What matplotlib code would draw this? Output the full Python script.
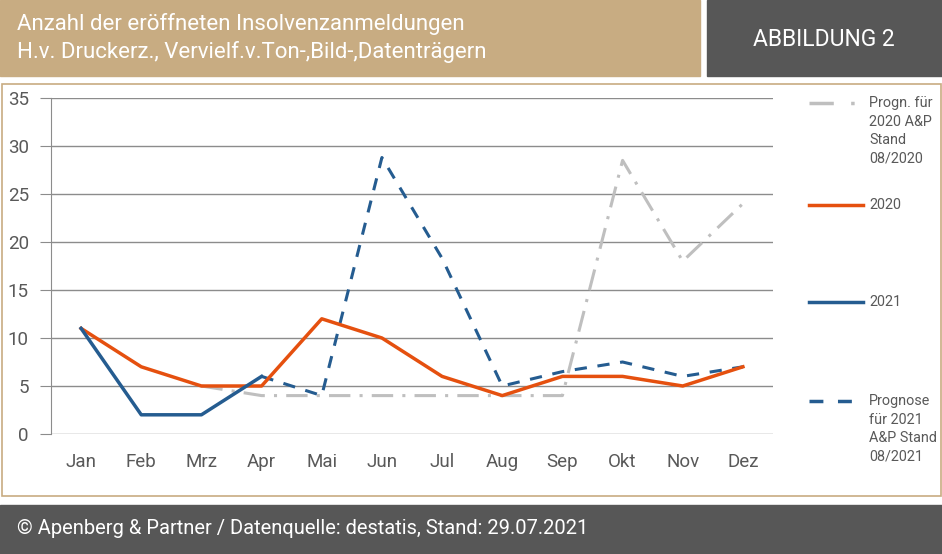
import matplotlib
matplotlib.use('Agg')
import matplotlib.pyplot as plt
from matplotlib.patches import Rectangle
from matplotlib.lines import Line2D
import numpy as np

plt.rcParams['font.family'] = ['Roboto', 'DejaVu Sans']

months = ['Jan', 'Feb', 'Mrz', 'Apr', 'Mai', 'Jun', 'Jul', 'Aug', 'Sep', 'Okt', 'Nov', 'Dez']
vals_2020 = [11, 7, 5, 5, 12, 10, 6, 4, 6, 6, 5, 7]
vals_2021 = [11, 2, 2, 6]                                   # Jan..Apr
progn_2021 = [6, 4, 28.8, 18.3, 5, 6.5, 7.5, 6, 7]          # Apr..Dez
progn_2020 = [5, 4, 4, 4, 4, 4, 4, 28.5, 18, 24]            # Mrz..Dez
yticks = [0, 5, 10, 15, 20, 25, 30, 35]

W, H = 942, 554
ORANGE = '#E5500F'
BLUE = '#255C90'
GREY = '#BFBFBF'
TAN = '#C8AC82'
DARK = '#575757'
TXT = '#595959'


def fx(x):
    return x / W


def fy(y):
    return 1 - y / H


fig = plt.figure(figsize=(W / 100, H / 100), dpi=100)

# header / footer boxes
fig.add_artist(Rectangle((fx(0), fy(76)), fx(700), 76 / H, color=TAN, transform=fig.transFigure))
fig.add_artist(Rectangle((fx(707), fy(76)), fx(235), 76 / H, color=DARK, transform=fig.transFigure))
fig.add_artist(Rectangle((fx(0), fy(554)), 1, 49 / H, color=DARK, transform=fig.transFigure))
fig.add_artist(Rectangle((fx(1.5), fy(496)), fx(939), 412 / H, fill=False, edgecolor=TAN,
                         linewidth=1.2, transform=fig.transFigure))

fig.text(fx(17), fy(24), 'Anzahl der eröffneten Insolvenzanmeldungen', color='white',
         fontsize=16, va='center', ha='left')
fig.text(fx(17), fy(52), 'H.v. Druckerz., Vervielf.v.Ton-,Bild-,Datenträgern', color='white',
         fontsize=16, va='center', ha='left')
fig.text(fx(824), fy(39), 'ABBILDUNG 2', color='white', fontsize=16.5, va='center', ha='center')
fig.text(fx(17), fy(528), '© Apenberg & Partner / Datenquelle: destatis, Stand: 29.07.2021',
         color='white', fontsize=14.5, va='center', ha='left')

ax = fig.add_axes([fx(51), fy(434), fx(773 - 51), (434 - 98) / H])
x = np.arange(len(months))

ax.plot(x[2:], progn_2020, color=GREY, linewidth=2.2, dashes=(7, 3, 1, 3), zorder=2)
ax.plot(x[3:], progn_2021, color=BLUE, linewidth=2.2, dashes=(4, 3.5), zorder=3)
ax.plot(x, vals_2020, color=ORANGE, linewidth=2.5, zorder=4)
ax.plot(x[:4], vals_2021, color=BLUE, linewidth=2.5, zorder=5)

ax.set_xlim(-0.5, 11.5)
ax.set_ylim(0, 35)
ax.set_yticks(yticks)
ax.set_xticks(x)
ax.set_xticklabels(months)
ax.yaxis.grid(True, color='#8C8C8C', linewidth=1)
ax.set_axisbelow(True)
for s in ['top', 'right', 'bottom']:
    ax.spines[s].set_visible(False)
ax.spines['left'].set_color('#8C8C8C')
ax.tick_params(axis='y', length=8, color='#8C8C8C', labelsize=13.5, labelcolor=TXT, pad=8)
ax.tick_params(axis='x', length=0, labelsize=13.5, labelcolor=TXT, pad=13.5)
ax.patch.set_alpha(0)

# legend drawn by hand
legend = [
    (103, dict(color=GREY, dashes=(7, 5, 1, 5)), ['Progn. für', '2020 A&P', 'Stand', '08/2020']),
    (205, dict(color=ORANGE), ['2020']),
    (302, dict(color=BLUE), ['2021']),
    (401, dict(color=BLUE, dashes=(4, 4.2)), ['Prognose', 'für 2021', 'A&P Stand', '08/2021']),
]
for ly, style, lines in legend:
    fig.add_artist(Line2D([fx(809), fx(863)], [fy(ly), fy(ly)], linewidth=2.5,
                          transform=fig.transFigure, **style))
    for i, t in enumerate(lines):
        fig.text(fx(869), fy(ly + i * 18.5), t, color=TXT, fontsize=10.4, va='center', ha='left')

fig.savefig('out.png', dpi=100)
